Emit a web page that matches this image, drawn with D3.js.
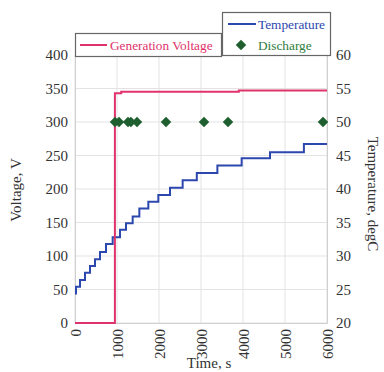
<!DOCTYPE html>
<html>
<head>
<meta charset="utf-8">
<script src="https://cdn.jsdelivr.net/npm/d3@7"></script>
<style>
  body { margin: 0; background: #fff; }
  svg text { font-family: "Liberation Serif", "DejaVu Serif", serif; }
</style>
</head>
<body>
<div id="chart"></div>
<script>
// generation voltage (time s, volts)
var voltTime = [0, 950, 950, 1100, 1100, 3900, 3900, 6000];
var voltVal  = [0, 0, 343, 343, 345, 345, 347, 347];

// temperature steps (time s, degC)
var tempTime = [0, 24, 119, 238, 357, 476, 595, 738, 897, 1071, 1214, 1373, 1532, 1746, 1984, 2262, 2563, 2900, 3390, 3968, 4643, 5450, 6000];
var tempVal  = [24.4, 25.4, 26.4, 27.5, 28.5, 29.5, 30.6, 31.8, 32.8, 33.9, 34.9, 35.9, 37.1, 38.1, 39.1, 40.2, 41.3, 42.4, 43.5, 44.6, 45.5, 46.7, 46.7];

// discharge events (time s), all at 300 V
var dischargeTime = [952, 1048, 1262, 1330, 1476, 2167, 3071, 3643, 5905];
var dischargeVal = 300;

var xTicks = [0, 1000, 2000, 3000, 4000, 5000, 6000];
var yTicks = [0, 50, 100, 150, 200, 250, 300, 350, 400];
var y2Ticks = [20, 25, 30, 35, 40, 45, 50, 55, 60];

var width = 384, height = 372;
var plotL = 75, plotR = 327, plotT = 55, plotB = 323;

var svg = d3.select("#chart").append("svg")
  .attr("width", width)
  .attr("height", height);

var x = d3.scaleLinear().domain([0, 6000]).range([plotL, plotR]);
var y = d3.scaleLinear().domain([0, 400]).range([plotB, plotT]);
var y2 = d3.scaleLinear().domain([20, 60]).range([plotB, plotT]);

// grid
svg.append("g").selectAll("line")
  .data(xTicks)
  .enter().append("line")
  .attr("x1", function(d) { return x(d); })
  .attr("x2", function(d) { return x(d); })
  .attr("y1", plotT).attr("y2", plotB)
  .attr("stroke", "#e3e3e3");

svg.append("g").selectAll("line")
  .data(yTicks)
  .enter().append("line")
  .attr("x1", plotL).attr("x2", plotR)
  .attr("y1", function(d) { return y(d); })
  .attr("y2", function(d) { return y(d); })
  .attr("stroke", "#e3e3e3");

// axes
var xAxis = svg.append("g")
  .attr("transform", "translate(0," + plotB + ")")
  .call(d3.axisBottom(x).tickValues(xTicks).tickSize(0).tickPadding(6).tickFormat(d3.format("d")));
xAxis.selectAll(".tick text")
  .attr("transform", "rotate(-90)")
  .attr("x", -6)
  .attr("y", 0)
  .attr("dy", "0.35em")
  .style("text-anchor", "end");

var yAxis = svg.append("g")
  .attr("transform", "translate(" + plotL + ",0)")
  .call(d3.axisLeft(y).tickValues(yTicks).tickSize(0).tickPadding(7));

var y2Axis = svg.append("g")
  .attr("transform", "translate(" + plotR + ",0)")
  .call(d3.axisRight(y2).tickValues(y2Ticks).tickSize(0).tickPadding(9));

[xAxis, yAxis, y2Axis].forEach(function(a) {
  a.select(".domain").attr("stroke", "#cfcfcf");
  a.selectAll("text")
    .attr("fill", "#333")
    .style("font-size", "15px")
    .style("font-family", "Liberation Serif, serif");
});

// axis titles
svg.append("text")
  .attr("x", 209).attr("y", 368)
  .attr("text-anchor", "middle")
  .attr("fill", "#333")
  .style("font-size", "15px")
  .text("Time,  s");

svg.append("text")
  .attr("transform", "translate(21,190) rotate(-90)")
  .attr("text-anchor", "middle")
  .attr("fill", "#333")
  .style("font-size", "15px")
  .text("Voltage,  V");

svg.append("text")
  .attr("transform", "translate(368,194) rotate(90)")
  .attr("text-anchor", "middle")
  .attr("fill", "#333")
  .style("font-size", "15px")
  .text("Temperature,  degC");

// temperature line
var tempData = tempTime.map(function(t, i) { return [t, tempVal[i]]; });
svg.append("path")
  .datum(tempData)
  .attr("fill", "none")
  .attr("stroke", "#2c47ad")
  .attr("stroke-width", 2)
  .attr("d", d3.line()
    .x(function(d) { return x(d[0]); })
    .y(function(d) { return y2(d[1]); })
    .curve(d3.curveStepAfter));

// voltage line
var voltData = voltTime.map(function(t, i) { return [t, voltVal[i]]; });
svg.append("path")
  .datum(voltData)
  .attr("fill", "none")
  .attr("stroke", "#e0336b")
  .attr("stroke-width", 2)
  .attr("d", d3.line()
    .x(function(d) { return x(d[0]); })
    .y(function(d) { return y(d[1]); }));

// discharge markers
svg.append("g").selectAll("path")
  .data(dischargeTime)
  .enter().append("path")
  .attr("transform", function(d) { return "translate(" + x(d) + "," + y(dischargeVal) + ")"; })
  .attr("d", d3.symbol().type(d3.symbolDiamond2).size(70))
  .attr("fill", "#1f5f2f");

// legend 1
svg.append("rect")
  .attr("x", 75.5).attr("y", 33.5).attr("width", 146).attr("height", 23)
  .attr("fill", "#fff").attr("stroke", "#666").attr("stroke-width", 1.2);
svg.append("line")
  .attr("x1", 80).attr("x2", 107).attr("y1", 45).attr("y2", 45)
  .attr("stroke", "#e0336b").attr("stroke-width", 2);
svg.append("text")
  .attr("x", 110).attr("y", 50)
  .attr("fill", "#e0336b")
  .style("font-size", "13.3px")
  .text("Generation Voltage");

// legend 2
svg.append("rect")
  .attr("x", 222.5).attr("y", 12.5).attr("width", 108).attr("height", 43)
  .attr("fill", "#fff").attr("stroke", "#666").attr("stroke-width", 1.2);
svg.append("line")
  .attr("x1", 228).attr("x2", 256).attr("y1", 24).attr("y2", 24)
  .attr("stroke", "#2c47ad").attr("stroke-width", 2);
svg.append("text")
  .attr("x", 258).attr("y", 29)
  .attr("fill", "#2c47ad")
  .style("font-size", "13.3px")
  .text("Temperature");
svg.append("path")
  .attr("transform", "translate(241,45)")
  .attr("d", d3.symbol().type(d3.symbolDiamond2).size(70))
  .attr("fill", "#1f5f2f");
svg.append("text")
  .attr("x", 258).attr("y", 50)
  .attr("fill", "#2e7d3e")
  .style("font-size", "13.3px")
  .text("Discharge");
</script>
</body>
</html>
